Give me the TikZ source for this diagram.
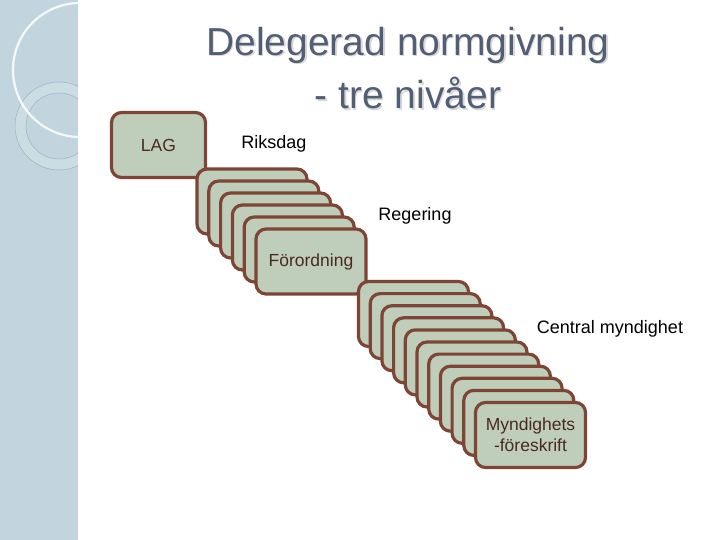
\documentclass[tikz,border=0pt]{standalone}
\usepackage{fontspec}
\setmainfont{Liberation Sans}
\definecolor{cardfill}{HTML}{BFCEBB}
\definecolor{cardline}{HTML}{7E4535}
\definecolor{cardtext}{HTML}{4A2A1E}
\definecolor{panel}{HTML}{C2D5DE}
\definecolor{panellight}{HTML}{D5E3E9}
\definecolor{ringline}{HTML}{9DB3BE}
\definecolor{titlecol}{HTML}{525D76}
\begin{document}
\begin{tikzpicture}[x=1pt,y=-1pt,
  card/.style={draw=cardline, fill=cardfill, line width=3.2pt, rounded corners=10pt,
    minimum width=110pt, minimum height=65pt, inner sep=0pt, text=cardtext,
    font=\fontsize{17.5}{21}\selectfont, align=center},
  lbl/.style={font=\fontsize{18}{21}\selectfont, text=black, inner sep=0pt},
  ttl/.style={font=\fontsize{39}{44}\selectfont, inner sep=0pt}]
\useasboundingbox (0,0) rectangle (720,540);
% left decorative panel
\fill[panel] (0,0) rectangle (78,540);
\begin{scope}
\clip (0,0) rectangle (78,540);
\fill[panellight] (0,0) -- (63,0) arc[start angle=0, end angle=-90, radius=63] -- cycle;
\draw[ringline, line width=0.5pt] (63,0) arc[start angle=0, end angle=-90, radius=63];
\fill[panellight, opacity=0.5, even odd rule] (59,126) circle[radius=44] (59,126) circle[radius=33];
\draw[ringline, line width=0.5pt] (59,126) circle[radius=44];
\draw[ringline, line width=0.5pt] (59,126) circle[radius=33];
\draw[white, opacity=0.85, line width=2.2pt] (80,70) circle[radius=67];
\end{scope}
% title
\node[ttl, text=gray!30] at (409.5,46.5) {Delegerad normgivning};
\node[ttl, text=titlecol] (t1) at (408,45) {Delegerad normgivning};
\node[ttl, text=gray!30] at (409.5,94.5) {- tre nivåer};
\node[ttl, text=titlecol] (t2) at (408,93) {- tre nivåer};
% LAG
\node[card, minimum width=94pt] (lag) at (158.5,145) {LAG};
\node[lbl] (riks) at (274,144) {Riksdag};
% stack 2
\foreach \k in {0,...,4} {
  \node[card] (r\k) at ({252+11.8*\k},{201.5+12*\k}) {};
}
\node[card] (r5) at (311,261.5) {\raisebox{-2pt}{Förordning}};
\node[lbl] (reg) at (415,216) {Regering};
% stack 3
\foreach \k in {0,...,9} {
  \node[card] (m\k) at ({413.5+11.7*\k},{314+12.1*\k}) {};
}
\node[card] (m10) at (530.5,435) {Myndighets\\-föreskrift};
\node[lbl] (cm) at (610,329) {Central myndighet};
\end{tikzpicture}
\end{document}
